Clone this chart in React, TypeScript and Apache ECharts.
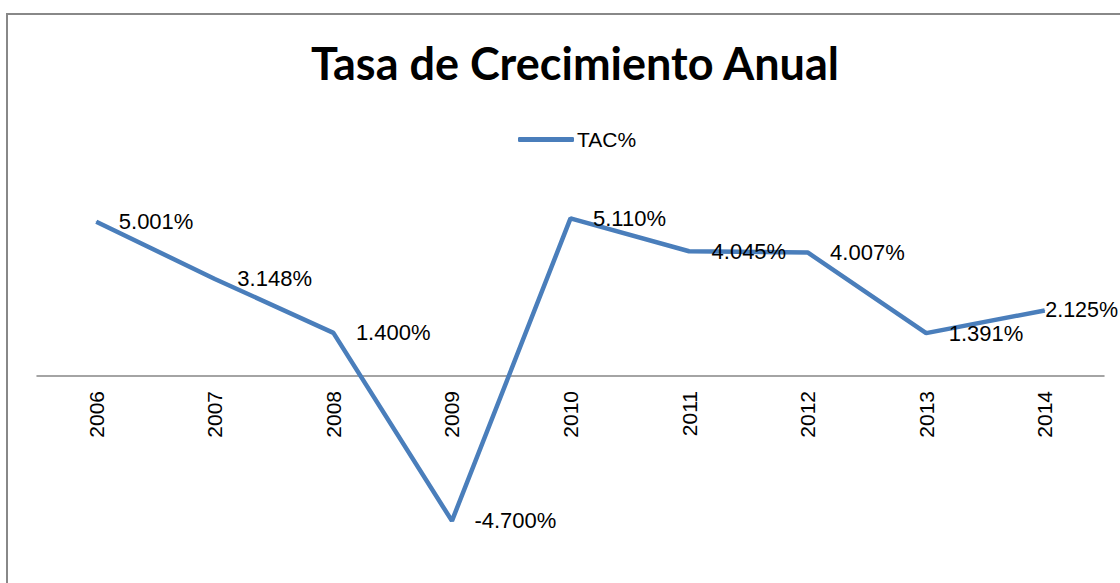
import React, { useEffect, useRef } from "react";
import * as echarts from "echarts";

const years = ["2006", "2007", "2008", "2009", "2010", "2011", "2012", "2013", "2014"];
const tac = [5.001, 3.148, 1.4, -4.7, 5.11, 4.045, 4.007, 1.391, 2.125];
const seriesName = "TAC%";
const titleText = "Tasa de Crecimiento Anual";

const TITLE_FONT = "Lato, 'Liberation Sans', sans-serif";
const FONT = "'Liberation Sans', Arial, sans-serif";

export default function App() {
  const ref = useRef<HTMLDivElement>(null);
  useEffect(() => {
    document.body.style.margin = "0";
    const chart = echarts.init(ref.current!, null, { renderer: "svg" });
    const gridTop = 191;
    const gridBottom = 22;
    const yMin = -6;
    const yMax = 6;
    const plotH = 583 - gridTop - gridBottom;
    const zeroOffset = -Math.round((0 - yMin) / (yMax - yMin) * plotH);
    const seriesData = tac.map((v, i) =>
      i === tac.length - 1 ? { value: v, label: { distance: 0, fontSize: 21.5 } } : { value: v }
    );
    chart.setOption({
      animation: false,
      backgroundColor: "#ffffff",
      textStyle: { fontFamily: FONT },
      title: {
        text: titleText,
        left: 306,
        top: 35,
        textStyle: { fontFamily: TITLE_FONT, fontSize: 45, fontWeight: "bold", color: "#000" },
      },
      legend: {
        data: [seriesName],
        top: 124,
        left: 513,
        icon: "roundRect",
        itemWidth: 56,
        itemHeight: 5,
        textStyle: { fontFamily: FONT, fontSize: 21, color: "#000", padding: [0, 0, 0, -2] },
      },
      graphic: [
        {
          type: "rect",
          shape: { x: 7, y: 14, width: 1300, height: 800 },
          style: { fill: "none", stroke: "#888888", lineWidth: 2 },
          silent: true,
        },
      ],
      grid: { left: 37, right: 16, top: gridTop, bottom: gridBottom, containLabel: false, outerBoundsMode: "none" },
      xAxis: {
        type: "category",
        data: years,
        boundaryGap: true,
        position: "bottom",
        offset: zeroOffset,
        axisLine: { onZero: false, lineStyle: { color: "#868686", width: 1.5 } },
        axisTick: { show: false },
        axisLabel: { rotate: 90, margin: 15, fontFamily: FONT, fontSize: 21, color: "#000" },
      },
      yAxis: {
        type: "value",
        min: yMin,
        max: yMax,
        interval: 2,
        show: false,
        splitLine: { show: false },
      },
      series: [
        {
          name: seriesName,
          type: "line",
          data: seriesData,
          symbol: "circle",
          symbolSize: 1,
          lineStyle: { color: "#4a7ebb", width: 4.5 },
          itemStyle: { color: "#4a7ebb" },
          label: {
            show: true,
            position: "right",
            distance: 22,
            fontFamily: FONT,
            fontSize: 22,
            color: "#000",
            formatter: (p: any) => Number(p.value).toFixed(3) + "%",
          },
        },
      ],
    });
    return () => chart.dispose();
  }, []);
  return <div ref={ref} style={{ position: "fixed", left: 0, top: 0, width: 1120, height: 583 }} />;
}
